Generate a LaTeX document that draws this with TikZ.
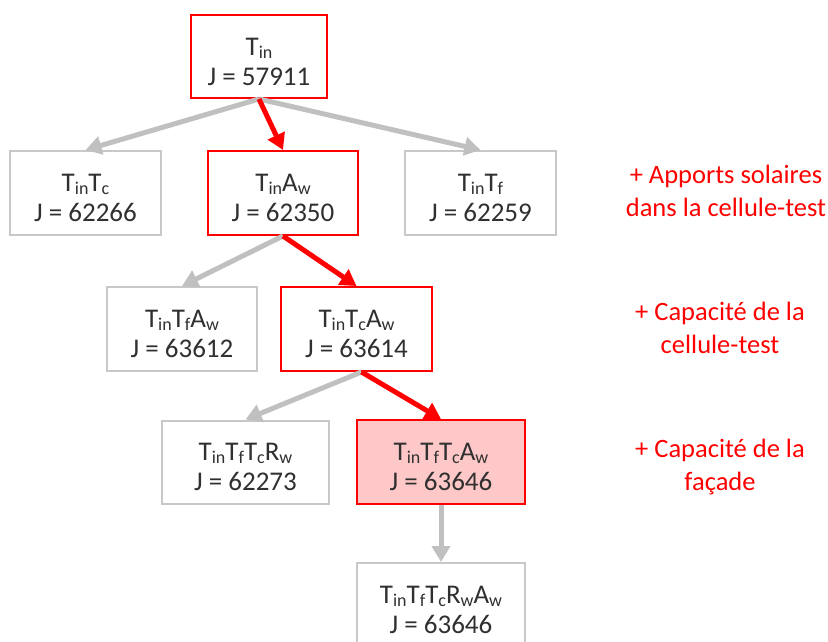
\documentclass[tikz,border=0pt]{standalone}
\usepackage{fontspec}
\setmainfont{Carlito}
\usetikzlibrary{arrows.meta}
\definecolor{edgegray}{HTML}{C0C0C0}
\definecolor{boxgray}{HTML}{C8C8C8}
\definecolor{hilite}{HTML}{FFC8C8}
\definecolor{txt}{HTML}{303030}
\newcommand\sbs[1]{\raisebox{-3pt}{\fontsize{18}{18}\selectfont #1}}
\newcommand\toprow{\rule{0pt}{28pt}}
\tikzset{
  model/.style={draw=boxgray, line width=2pt, fill=white, inner sep=0pt,
    align=center, text=txt, font=\fontsize{27}{30}\selectfont},
  chosen/.style={model, draw=red},
  best/.style={chosen, fill=hilite},
  grayedge/.style={draw=edgegray, line width=5pt,
    -{Triangle[length=16pt,width=18pt]}},
  rededge/.style={draw=red, line width=5pt,
    -{Triangle[length=16pt,width=18pt]}},
  note/.style={text=red, align=center, font=\fontsize{26.5}{33}\selectfont}
}
\begin{document}
\begin{tikzpicture}[x=1pt,y=-1pt]
\useasboundingbox (0,0) rectangle (828,642);
\clip (0,0) rectangle (828,642);

% model nodes
\node[chosen, minimum width=136pt, minimum height=83pt] (tin) at (259,56.5)
  {\toprow T\sbs{in}\\J = 57911};
\node[model, minimum width=151pt, minimum height=84pt] (tc) at (85.5,193)
  {\toprow T\sbs{in}T\sbs{c}\\J = 62266};
\node[chosen, minimum width=150pt, minimum height=84pt] (aw) at (283,193)
  {\toprow T\sbs{in}A\sbs{w}\\J = 62350};
\node[model, minimum width=151pt, minimum height=84pt] (tf) at (480.5,193)
  {\toprow T\sbs{in}T\sbs{f}\\J = 62259};
\node[model, minimum width=150pt, minimum height=84pt] (tfaw) at (182,329)
  {\toprow T\sbs{in}T\sbs{f}A\sbs{w}\\J = 63612};
\node[chosen, minimum width=151pt, minimum height=84pt] (tcaw) at (356.5,329)
  {\toprow T\sbs{in}T\sbs{c}A\sbs{w}\\J = 63614};
\node[model, minimum width=167pt, minimum height=83pt] (tftcrw) at (245.5,462)
  {\toprow T\sbs{in}T\sbs{f}T\sbs{c}R\sbs{w}\\J = 62273};
\node[best, minimum width=168pt, minimum height=84pt] (tftcaw) at (441,462)
  {\toprow T\sbs{in}T\sbs{f}T\sbs{c}A\sbs{w}\\J = 63646};
\node[model, minimum width=168pt, minimum height=84pt] (full) at (441,605)
  {\toprow T\sbs{in}T\sbs{f}T\sbs{c}R\sbs{w}A\sbs{w}\\J = 63646};

% connectors
\draw[grayedge] (tin.south) -- (tc.north);
\draw[grayedge] (tin.south) -- (tf.north);
\draw[rededge] (tin.south) -- (aw.north);
\draw[grayedge] (aw.south) -- (tfaw.north);
\draw[rededge] (aw.south) -- (tcaw.north);
\draw[grayedge] ([xshift=5pt]tcaw.south) -- (tftcrw.north);
\draw[rededge] ([xshift=5pt]tcaw.south) -- (tftcaw.north);
\draw[grayedge] (tftcaw.south) -- (full.north);

% annotations
\node[note] (n1) at (726,191) {+ Apports solaires\\dans la cellule-test};
\node[note] (n2) at (720,328) {+ Capacité de la\\cellule-test};
\node[note] (n3) at (720,467) {+ Capacité de la\\façade};
\end{tikzpicture}
\end{document}
